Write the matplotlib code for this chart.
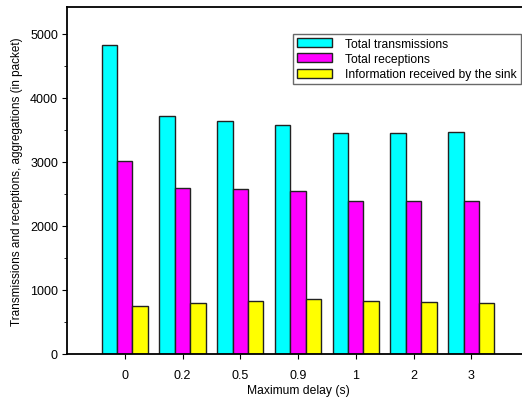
import numpy as np
import matplotlib
matplotlib.use("Agg")
import matplotlib.pyplot as plt
from matplotlib.ticker import MultipleLocator

plt.rcParams['font.family'] = ['Liberation Sans', 'DejaVu Sans']

# data
delays = ['0', '0.2', '0.5', '0.9', '1', '2', '3']
transmissions = [4830, 3720, 3640, 3575, 3458, 3453, 3474]
receptions = [3020, 2594, 2573, 2542, 2385, 2390, 2385]
sink_info = [745, 797, 828, 859, 833, 808, 802]

series = [
    (transmissions, '#00ffff', 'Total transmissions'),
    (receptions, '#ff00ff', 'Total receptions'),
    (sink_info, '#ffff00', 'Information received by the sink'),
]

fig = plt.figure(figsize=(5.22, 4.02), dpi=100)
# axes runs past the right edge of the figure, as in the original
ax = fig.add_axes([67/522, 1 - 355/402, (529 - 67)/522, (355 - 8)/402])

x = np.arange(len(delays))
w = 0.267
for i, (vals, col, lab) in enumerate(series):
    ax.bar(x + (i - 1)*w, vals, w, color=col, edgecolor='#222222',
           linewidth=1.0, label=lab, zorder=2)

ax.set_xlim(-1, 7)
ax.set_ylim(0, 5420)
ax.set_xticks(x)
ax.set_xticklabels(delays)
ax.yaxis.set_major_locator(MultipleLocator(1000))
ax.yaxis.set_minor_locator(MultipleLocator(500))
ax.tick_params(axis='x', direction='out', length=3.5, pad=7.5, labelsize=9)
ax.tick_params(axis='y', which='major', direction='out', length=3.5, pad=3, labelsize=9)
ax.tick_params(axis='y', which='minor', direction='out', length=2)
for s in ax.spines.values():
    s.set_linewidth(1.3)
    s.set_zorder(3)

ax.set_xlabel('Maximum delay (s)', fontsize=8.75, labelpad=2)
ax.set_ylabel('Transmissions and receptions, aggregations (in packet)', fontsize=8.5, labelpad=5)

leg = ax.legend(loc='upper left', bbox_to_anchor=((293 - 67)/462, (355 - 35)/347),
                fontsize=8.75, frameon=True, fancybox=False, shadow=False,
                handlelength=2.9, handleheight=0.75, borderpad=0.3, labelspacing=0.28,
                handletextpad=1.1, borderaxespad=0)
leg.get_frame().set_edgecolor('#444444')
leg.get_frame().set_linewidth(1.0)

fig.savefig('out.png', dpi=100)
